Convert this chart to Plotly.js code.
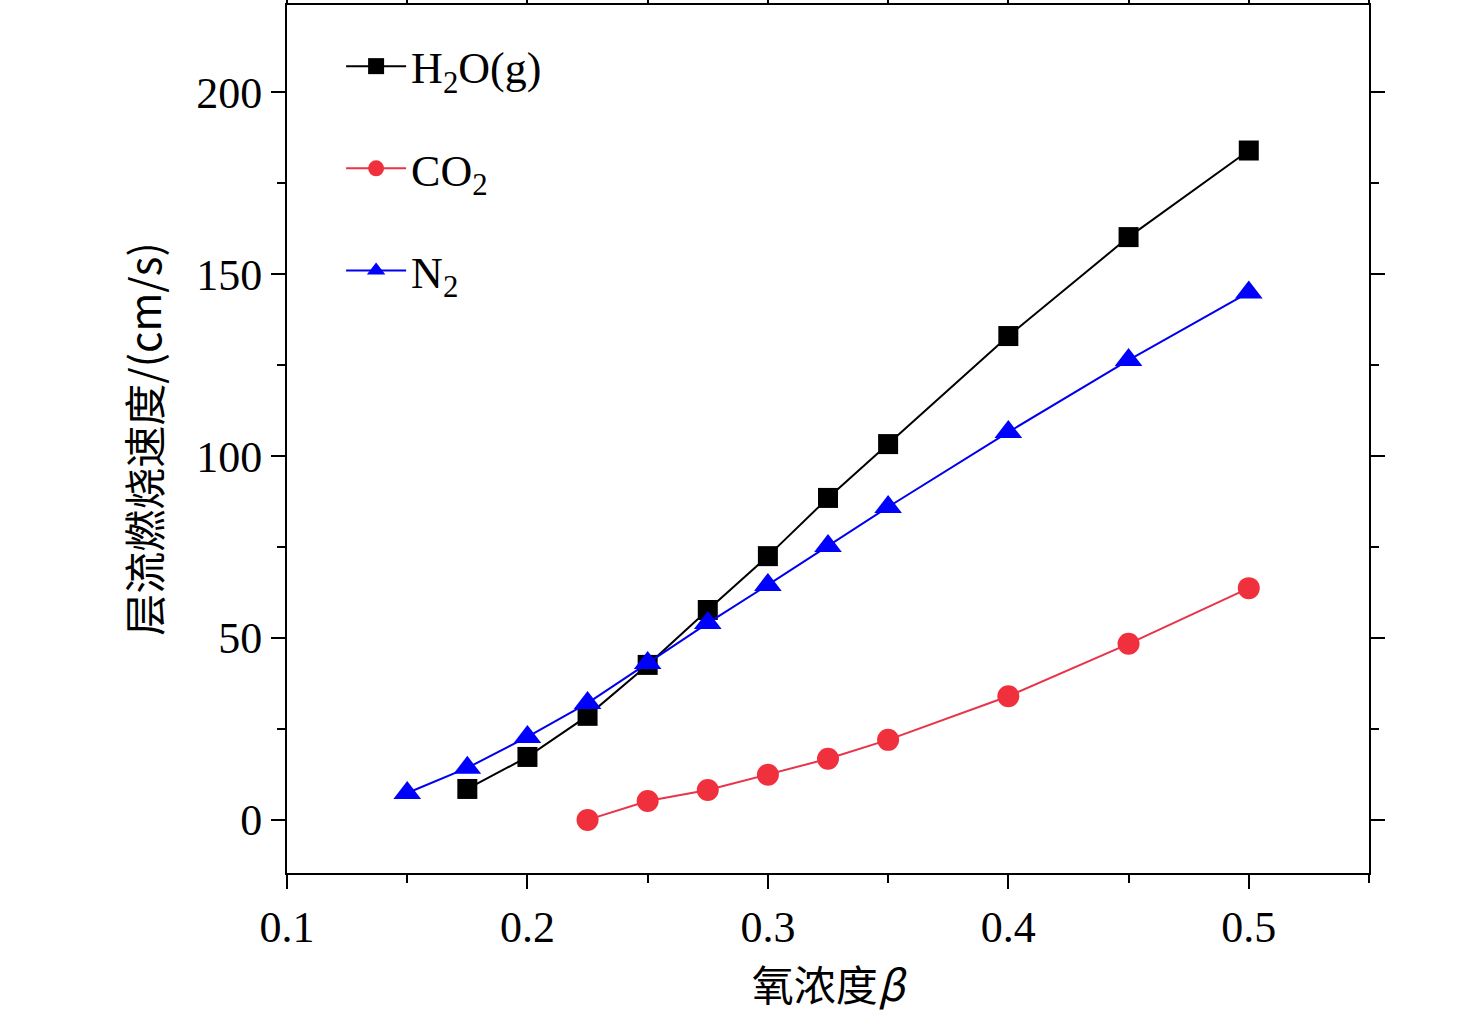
<!DOCTYPE html>
<html><head><meta charset="utf-8">
<script src="https://cdn.plot.ly/plotly-3.0.1.min.js"></script>
<style>body{margin:0;background:#fff}</style></head>
<body><div id="c" style="width:1476px;height:1020px"></div>
<script>
const xH2O=[0.175,0.2,0.225,0.25,0.275,0.3,0.325,0.35,0.4,0.45,0.5];
const yH2O=[8.5,17.3,28.6,42.6,57.7,72.5,88.5,103.3,133,160.2,184];
const xCO2=[0.225,0.25,0.275,0.3,0.325,0.35,0.4,0.45,0.5];
const yCO2=[0,5.2,8.2,12.4,16.8,22,34,48.4,63.7];
const xN2=[0.15,0.175,0.2,0.225,0.25,0.275,0.3,0.325,0.35,0.4,0.45,0.5];
const yN2=[7.4,14.3,22.8,32.1,43.1,54.1,64.6,75.3,86,106.6,126.4,145];
const serif='Liberation Serif, Times New Roman, serif';
const cjk='Noto Sans CJK SC, sans-serif';
const traces=[
 {x:xH2O,y:yH2O,name:'H<sub>2</sub>O(g)',legendgroup:'a',mode:'lines+markers',line:{color:'#000',width:2},marker:{symbol:'square',size:20,color:'#000'}},
 {x:xCO2,y:yCO2,name:'CO<sub>2</sub>',legendgroup:'b',mode:'lines+markers',line:{color:'#e8344a',width:2},marker:{symbol:'circle',size:22,color:'#f0303c'}},
 {x:xN2,y:yN2,name:'N<sub>2</sub>',legendgroup:'c',mode:'lines+markers',line:{color:'#0000ee',width:2},marker:{symbol:'triangle-up',size:24,color:'#0000ff'}}
];
const ax={showline:true,linecolor:'#000',linewidth:2,mirror:'ticks',ticks:'outside',ticklen:14,tickwidth:2,tickcolor:'#000',showgrid:false,zeroline:false,
 tickfont:{family:serif,size:44,color:'#000'},minor:{ticks:'outside',ticklen:8,tickwidth:2,tickcolor:'#000'}};
const layout={width:1476,height:1020,margin:{l:287,r:107,t:5,b:147},paper_bgcolor:'#fff',plot_bgcolor:'#fff',
 xaxis:Object.assign({},ax,{range:[0.1,0.55],dtick:0.1,tick0:0.1,minor:Object.assign({},ax.minor,{dtick:0.05}),
   title:{text:'氧浓度<i>β</i>',font:{family:cjk,size:42,color:'#000'},standoff:16}}),
 yaxis:Object.assign({},ax,{range:[-14.6,224],dtick:50,tick0:0,minor:Object.assign({},ax.minor,{dtick:25}),
   title:{text:'层流燃烧速度/(cm/s)',font:{family:cjk,size:42,color:'#000'},standoff:22}}),
 showlegend:true,
 legend:{x:0.05,y:0.97,xanchor:'left',yanchor:'top',bgcolor:'rgba(0,0,0,0)',font:{family:serif,size:44,color:'#000'},tracegroupgap:42,itemwidth:60}
};
Plotly.newPlot('c',traces,layout,{displayModeBar:false});
</script></body></html>
